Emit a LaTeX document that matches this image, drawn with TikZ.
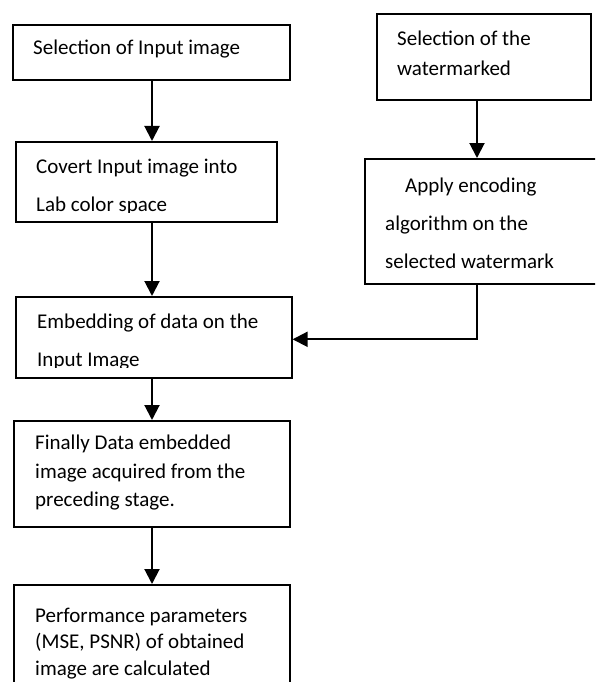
\documentclass[tikz,border=0pt]{standalone}
\usepackage{fontspec}
\setmainfont{Carlito}
\usetikzlibrary{arrows.meta}

\begin{document}
\begin{tikzpicture}[
    x=1pt, y=-1pt,
    box/.style={draw, line width=1.6pt, inner sep=0pt, anchor=north west},
    txt/.style={font=\fontsize{21}{25}\selectfont, anchor=base west, inner sep=0pt},
    arr/.style={line width=2pt, -{Triangle[length=15pt, width=15pt]}}
]
\path[use as bounding box, clip] (0,0) rectangle (595,682);

% Spines for the connectors
\coordinate (ls) at (152,0);
\coordinate (rs) at (477,0);

% Selection of input image
\node[box, minimum width=277pt, minimum height=55pt] (b1) at (12,24) {};
\node[txt] (t1) at (33,55) {Selection of Input image};

% Selection of watermark
\node[box, minimum width=214pt, minimum height=86pt] (b2) at (376,13) {};
\node[txt] (t2a) at (397,46) {Selection of the};
\node[txt] (t2b) at (397,76) {watermarked};

% Lab conversion
\node[box, minimum width=261pt, minimum height=80pt] (b3) at (15,141) {};
\node[txt] (t3a) at (36,173) {Covert Input image into};
\begin{scope}
  \clip (15,141) rectangle (276,212);
  \node[txt] (t3b) at (36,211) {Lab color space};
\end{scope}

% Encoding
\node[box, minimum width=245pt, minimum height=125pt] (b4) at (364,158) {};
\node[txt] (t4a) at (405,192) {Apply encoding};
\node[txt] (t4b) at (385,230) {algorithm on the};
\node[txt] (t4c) at (385,268) {selected watermark};

% Embedding
\node[box, minimum width=276pt, minimum height=81pt] (b5) at (15,296) {};
\node[txt] (t5a) at (37,328) {Embedding of data on the};
\begin{scope}
  \clip (15,296) rectangle (291,367);
  \node[txt] (t5b) at (37,366) {Input Image};
\end{scope}

% Embedded image
\node[box, minimum width=276pt, minimum height=106pt] (b6) at (13,420) {};
\node[txt] (t6a) at (35,449) {Finally Data embedded};
\node[txt] (t6b) at (35,478) {image acquired from the};
\node[txt] (t6c) at (35,506) {preceding stage.};

% Performance parameters
\node[box, minimum width=276pt, minimum height=116pt] (b7) at (13,584) {};
\node[txt] (t7a) at (35,622) {Performance parameters};
\node[txt] (t7b) at (35,648) {(MSE, PSNR) of obtained};
\node[txt] (t7c) at (35,675) {image are calculated};

% Connectors
\draw[arr] (b1.south -| ls) -- (b3.north -| ls);
\draw[arr] (b3.south -| ls) -- (b5.north -| ls);
\draw[arr] (b5.south -| ls) -- (b6.north -| ls);
\draw[arr] (b6.south -| ls) -- (b7.north -| ls);
\draw[arr] (b2.south -| rs) -- (b4.north -| rs);
\draw[arr] (b4.south -| rs) |- ([yshift=-2pt]b5.east);

\end{tikzpicture}
\end{document}
